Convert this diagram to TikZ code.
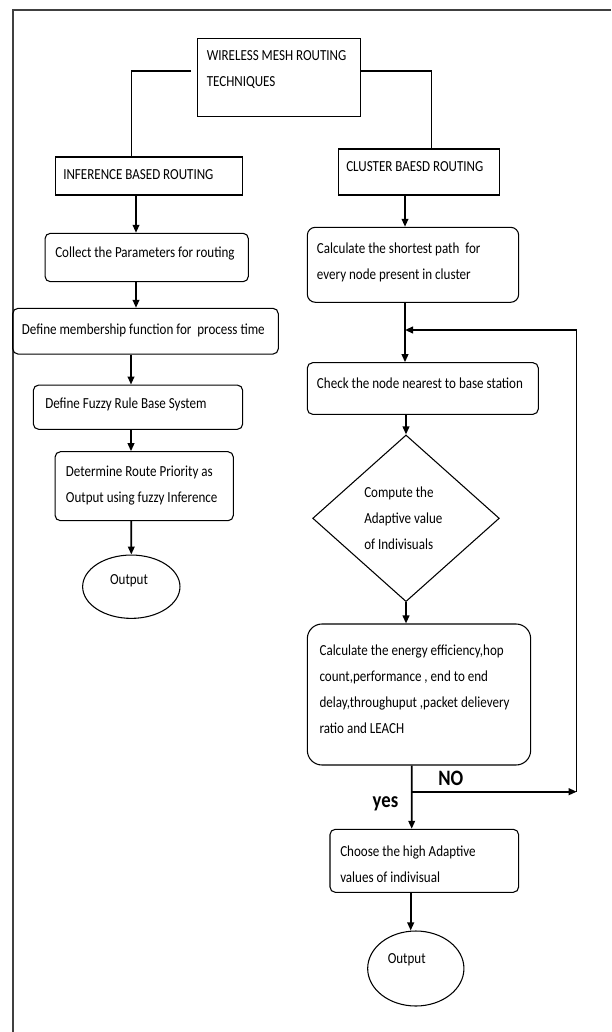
\documentclass[tikz,border=0pt]{standalone}
\usepackage{fontspec}
\setmainfont{Carlito}[FakeStretch=0.85]
\usetikzlibrary{arrows.meta,shapes.geometric,calc}
\begin{document}
\begin{tikzpicture}[x=0.75pt,y=-0.75pt,
  box/.style={draw,line width=0.8pt,inner sep=0pt,rectangle},
  rbox/.style={box,rounded corners=4pt},
  oval/.style={draw,line width=0.8pt,inner sep=0pt,ellipse},
  dia/.style={draw,line width=0.8pt,inner sep=0pt,diamond},
  txt/.style={inner sep=0pt,anchor=west,align=left,font=\fontsize{11.5}{19.5}\selectfont},
  ctxt/.style={inner sep=0pt,font=\fontsize{11.5}{19.5}\selectfont},
  lbl/.style={inner sep=0pt,font=\fontsize{16.5}{18}\selectfont\bfseries},
  arr/.style={line width=1.3pt,-{Triangle[length=6pt,width=5pt]}},
  link/.style={line width=1pt},
  thinlink/.style={line width=0.8pt},
  frame/.style={line width=1pt,black!75}]
\useasboundingbox (0,0) rectangle (611,1032);
% outer frame (left and top only)
\draw[frame] (13,1032) -- (13,10) -- (611,10);

% boxes
\node[box,minimum width=122.25pt,minimum height=58.3pt] (title) at (279,77.8) {};
\node[box,minimum width=140.3pt,minimum height=28.5pt] (inf) at (148.9,176) {};
\node[box,minimum width=121pt,minimum height=34.5pt] (cluster) at (419,172) {};
\node[rbox,minimum width=152.5pt,minimum height=36.3pt] (collect) at (146.7,257.5) {};
\node[rbox,minimum width=199.2pt,minimum height=34.3pt] (define) at (145.5,331.2) {};
\node[rbox,minimum width=157pt,minimum height=33.2pt] (fuzzy) at (138,407.2) {};
\node[rbox,minimum width=133.7pt,minimum height=51.75pt] (determine) at (144.2,486.2) {};
\node[oval,minimum width=73pt,minimum height=47.5pt] (out1) at (131.3,586.7) {};
\node[rbox,rounded corners=6pt,minimum width=158.5pt,minimum height=56.25pt] (calc1) at (413,264.8) {};
\node[rbox,minimum width=173.25pt,minimum height=38.7pt] (check) at (422.8,388.5) {};
\node[dia,minimum width=140pt,minimum height=125pt] (decide) at (406,518.3) {};
\node[rbox,rounded corners=11pt,minimum width=167.5pt,minimum height=105.75pt] (calc2) at (419,694.5) {};
\node[rbox,minimum width=141.5pt,minimum height=47.25pt] (choose) at (424.3,860.8) {};
\node[oval,minimum width=72.2pt,minimum height=56.25pt] (out2) at (415.8,968.5) {};

% texts
\node[txt] (tTitle) at (206.5,70) {WIRELESS MESH ROUTING\\TECHNIQUES};
\node[txt] (tInf) at (63,175) {INFERENCE BASED ROUTING};
\node[txt] (tCluster) at (346,167) {CLUSTER BAESD ROUTING};
\node[txt] (tCollect) at (55,253.3) {Collect the Parameters for routing};
\node[txt] (tDefine) at (21.7,330) {Define membership function for~ process time};
\node[txt] (tFuzzy) at (45,404) {Define Fuzzy Rule Base System};
\node[txt] (tDetermine) at (65.7,485.5) {Determine Route Priority as\\Output using fuzzy Inference};
\node[ctxt] (tOut1) at (129,581) {Output};
\node[txt] (tCalc1) at (316.7,262.2) {Calculate the shortest path~ for\\every node present in cluster};
\node[txt] (tCheck) at (316.7,383.3) {Check the node nearest to base station};
\node[txt] (tDecide) at (364,518) {Compute the\\Adaptive value\\of Indivisuals};
\node[txt] (tCalc2) at (319.3,689.3) {Calculate the energy efficiency,hop\\count,performance , end to end\\delay,throughuput ,packet delievery\\ratio and LEACH};
\node[txt] (tChoose) at (340,864.2) {Choose the high Adaptive\\values of indivisual};
\node[ctxt] (tOut2) at (406.7,959.3) {Output};
\node[lbl] (no) at (450.8,778.3) {NO};
\node[lbl] (yes) at (385.5,803.3) {yes};

% title connectors
\draw[link] ($(title.west)+(-5.9,-6.8)$) -| ($(inf.north)+(-17.6,0)$);
\draw[link] ($(title.east)+(0,-6.8)$) -| ($(cluster.north)+(12.4,0)$);

% left column arrows
\draw[arr] ($(inf.south)+(-12.9,0)$) -- ($(collect.north)+(-10.7,0)$);
\draw[arr] ($(collect.south)+(-10.7,0)$) -- ($(define.north)+(-9.5,0)$);
\draw[arr] ($(define.south)+(-14.5,0)$) -- ($(fuzzy.north)+(-7,0)$);
\draw[arr] ($(fuzzy.south)+(-7,0)$) -- ($(determine.north)+(-13.2,0)$);
\draw[arr] ($(determine.south)+(-12.9,0)$) -- (out1.north);

% right column arrows
\coordinate (J) at (405,330);
\coordinate (B) at (411.7,791.7);
\coordinate (R1) at (576.7,791.7);
\coordinate (R2) at (576.7,330);
\draw[arr] ($(cluster.south)+(-14,0)$) -- ($(calc1.north)+(-8,0)$);
\draw[arr] ($(calc1.south)+(-8,0)$) -- ($(check.north)+(-17.8,0)$);
\draw[arr] ($(check.south)+(-16.8,0)$) -- (decide.north);
\draw[arr] (decide.south) -- ($(calc2.north)+(-13,0)$);
\draw[arr] ($(calc2.south)+(-7.3,0)$) -- ($(choose.north)+(-12.6,0)$);
\draw[arr] ($(choose.south)+(-13.6,0)$) -- ($(out2.north)+(-5.1,0)$);

% NO loop
\draw[arr] (B) -- (R1);
\draw[thinlink] (R1) -- (R2);
\draw[arr] (R2) -- (J);
\end{tikzpicture}
\end{document}
